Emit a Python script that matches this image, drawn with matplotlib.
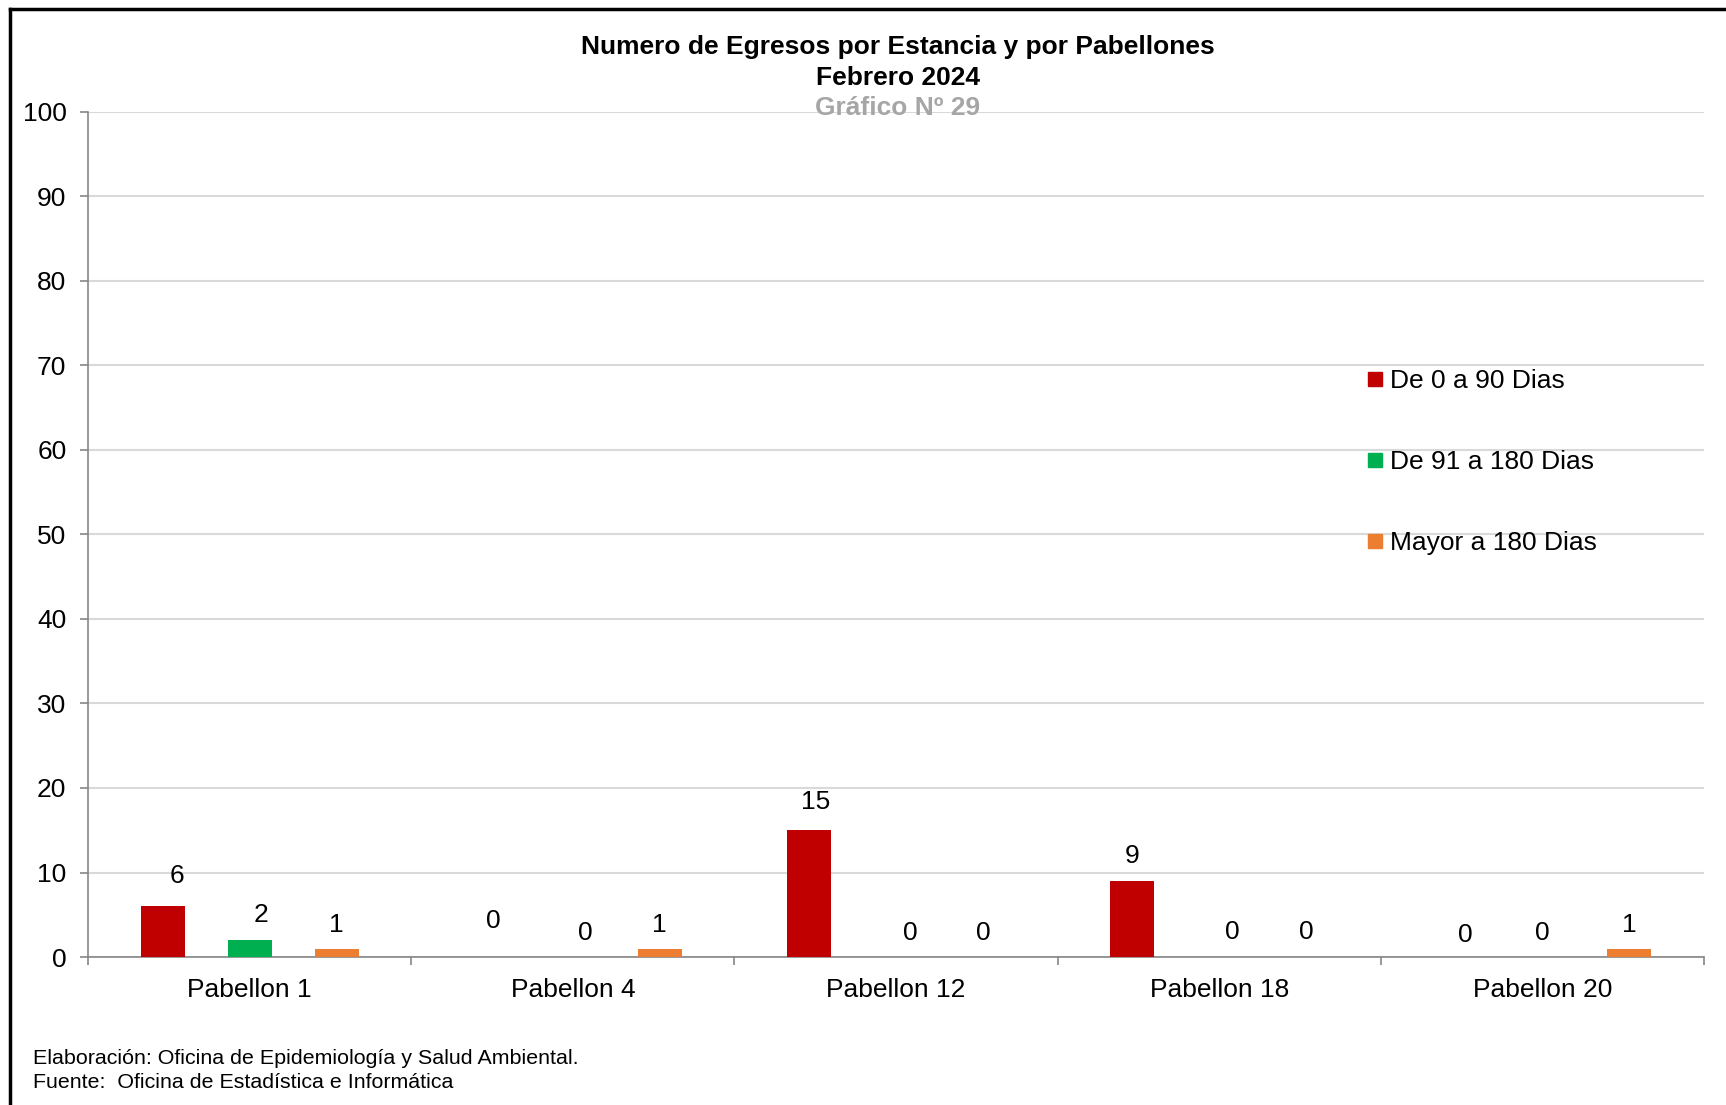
import matplotlib
matplotlib.use("Agg")
import matplotlib.pyplot as plt
from matplotlib.lines import Line2D
import numpy as np

plt.rcParams['font.family'] = ['Liberation Sans', 'DejaVu Sans']

pabellones = ['Pabellon 1', 'Pabellon 4', 'Pabellon 12', 'Pabellon 18', 'Pabellon 20']
series_names = ['De 0 a 90 Dias', 'De 91 a 180 Dias', 'Mayor a 180 Dias']
de_0_a_90 = [6, 0, 15, 9, 0]
de_91_a_180 = [2, 0, 0, 0, 0]
mayor_180 = [1, 1, 0, 0, 1]
colores = ['#C00000', '#00B050', '#ED7D31']

valores = [de_0_a_90, de_91_a_180, mayor_180]

# desplazamiento manual de etiquetas (dx, dy en puntos), como en el original
ajuste_etiquetas = [
    [(10.4, 5), (5.2, 9), (4.8, 3.6), (0, 1.2), (7.3, -1.2)],
    [(8.3, 0.7), (8.8, 0), (10.4, 0), (9.4, 1.2), (0, 0)],
    [(0, 0), (0, 0), (0, 0), (0, 1.2), (0, 0)],
]

fig = plt.figure(figsize=(17.26, 11.05), dpi=100)
ax = fig.add_axes([0.051, 0.1339, 0.9363, 0.765])

x = np.arange(len(pabellones))
width = 0.136
offsets = [-0.269, 0, 0.269]

for vals, off, col, aj in zip(valores, offsets, colores, ajuste_etiquetas):
    ax.bar(x + off, vals, width, color=col, zorder=3)
    for xi, v, (dx, dy) in zip(x + off, vals, aj):
        ax.annotate('%d' % v, (xi, v), xytext=(dx, 12 + dy), textcoords='offset points',
                    ha='center', va='baseline', fontsize=19, color='black')

ax.set_xlim(-0.5, len(pabellones) - 0.5)
ax.set_ylim(0, 100)
ax.set_yticks(range(0, 101, 10))
ax.set_xticks(x)
ax.set_xticklabels(pabellones)
ax.set_xticks(np.arange(-0.5, len(pabellones)), minor=True)
ax.tick_params(axis='x', which='major', length=0, pad=15, labelsize=19)
ax.tick_params(axis='x', which='minor', length=6, color='#868686', width=1.2)
ax.tick_params(axis='y', length=6, color='#868686', width=1.2, pad=9.5, labelsize=19)

ax.grid(axis='y', color='#D9D9D9', linewidth=1.5, zorder=0)
ax.set_axisbelow(True)
for s in ['top', 'right']:
    ax.spines[s].set_visible(False)
for s in ['left', 'bottom']:
    ax.spines[s].set_color('#868686')
    ax.spines[s].set_linewidth(1.2)

handles = [Line2D([], [], marker='s', linestyle='none', markersize=10, color=c) for c in colores]
fig.legend(handles, series_names, loc='center left', bbox_to_anchor=(0.7926, 0.5819),
           frameon=False, fontsize=19, labelspacing=2.17, handlelength=0.55,
           handletextpad=0.3, borderpad=0, borderaxespad=0)

fig.text(0.5203, 0.9573, 'Numero de Egresos por Estancia y por Pabellones',
         ha='center', va='center', fontsize=19, fontweight='bold')
fig.text(0.5203, 0.9292, 'Febrero 2024', ha='center', va='center',
         fontsize=19, fontweight='bold')
fig.text(0.5203, 0.9021, 'Gráfico Nº 29', ha='center', va='center',
         fontsize=19, fontweight='bold', color='#A6A6A6')

fig.text(0.0191, 0.0425, 'Elaboración: Oficina de Epidemiología y Salud Ambiental.',
         ha='left', va='center', fontsize=15.4)
fig.text(0.0191, 0.0208, 'Fuente:  Oficina de Estadística e Informática',
         ha='left', va='center', fontsize=15.4)

# marco de la figura (solo arriba e izquierda)
fig.add_artist(Line2D([0.0058, 1.0], [0.9919, 0.9919], color='black', linewidth=2.5))
fig.add_artist(Line2D([0.0058, 0.0058], [0.0, 0.9919], color='black', linewidth=2.5))

fig.savefig('out.png', dpi=100)
